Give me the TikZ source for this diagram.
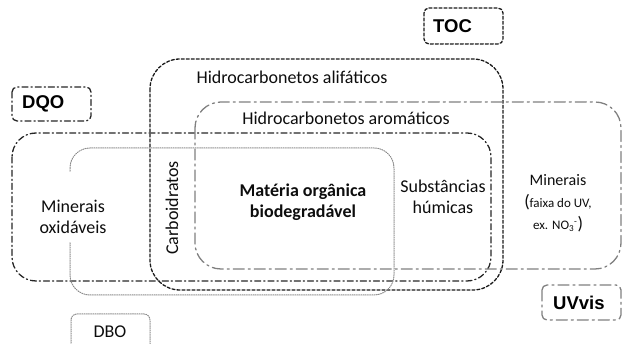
\documentclass[tikz,border=0pt]{standalone}
\usepackage{fontspec}
\setmainfont{Carlito}
\newfontfamily\tagfont{Liberation Sans}
\begin{document}
\begin{tikzpicture}[x=1pt,y=-1pt,line cap=round,line join=round,
	tocline/.style={draw=black!90,line width=1.3pt,dash pattern=on 3pt off 2pt},
	dqoline/.style={draw=black!85,line width=1.3pt,dash pattern=on 6pt off 3pt on 1.2pt off 3pt},
	uvline/.style={draw=black!50,line width=1.3pt,dash pattern=on 11pt off 4pt on 2pt off 4pt},
	dboline/.style={draw=black!45,line width=1pt,dash pattern=on 1pt off 1.2pt},
	tag/.style={font=\tagfont\bfseries\fontsize{18.5}{20}\selectfont,anchor=west,inner sep=0pt},
	txt/.style={font=\fontsize{18}{21}\selectfont,align=center,text=black!95,inner sep=0pt}]
	\useasboundingbox (0,0) rectangle (622,344);
	\clip (0,0) rectangle (622,344);
	% large regions
	\draw [tocline,rounded corners=30] (150,59) rectangle (503,290);
	\draw [dqoline,rounded corners=24] (12,133) rectangle (491,281);
	\draw [uvline,rounded corners=26] (195,102) rectangle (621,269);
	\draw [dboline,rounded corners=20] (70,148) rectangle (394,295);
	% label boxes
	\draw [tocline,rounded corners=5] (424,8) rectangle (503,44);
	\draw [dqoline,rounded corners=5] (12,87) rectangle (91,121);
	\draw [uvline,rounded corners=5] (542,285) rectangle (621,320);
	\draw [dboline,rounded corners=6] (71,314) rectangle (150,370);
	\node [tag] (toc) at (433,26) {TOC};
	\node [tag] (dqo) at (22,104) {DQO};
	\node [tag] (uvvis) at (553,302.5) {UVvis};
	\node [txt] (dbo) at (110,332) {DBO};
	% white gaps behind texts
	\fill [white] (25,172) rectangle (120,242);
	\fill [white] (396,168) rectangle (488,250);
	% texts
	\node [txt] (alif) at (292,77) {Hidrocarbonetos alifáticos};
	\node [txt] (arom) at (346,118) {Hidrocarbonetos aromáticos};
	\node [txt] (minox) at (73,217) {Minerais\\oxidáveis};
	\node [txt,rotate=90] (carb) at (172,208) {Carboidratos};
	\node [txt,font=\bfseries\fontsize{18}{21}\selectfont] (mob) at (303,202) {Matéria orgânica\\biodegradável};
	\node [txt] (humic) at (443,197) {Substâncias\\húmicas};
	\node [txt,font=\fontsize{16}{22}\selectfont] (minuv) at (558,203)
		{Minerais\\{\fontsize{13}{22}\selectfont{\fontsize{18}{22}\selectfont(}faixa do UV,}\\{\fontsize{13}{22}\selectfont ex. NO\textsubscript{3}\textsuperscript{-}{\fontsize{18}{22}\selectfont)}}};
\end{tikzpicture}
\end{document}
